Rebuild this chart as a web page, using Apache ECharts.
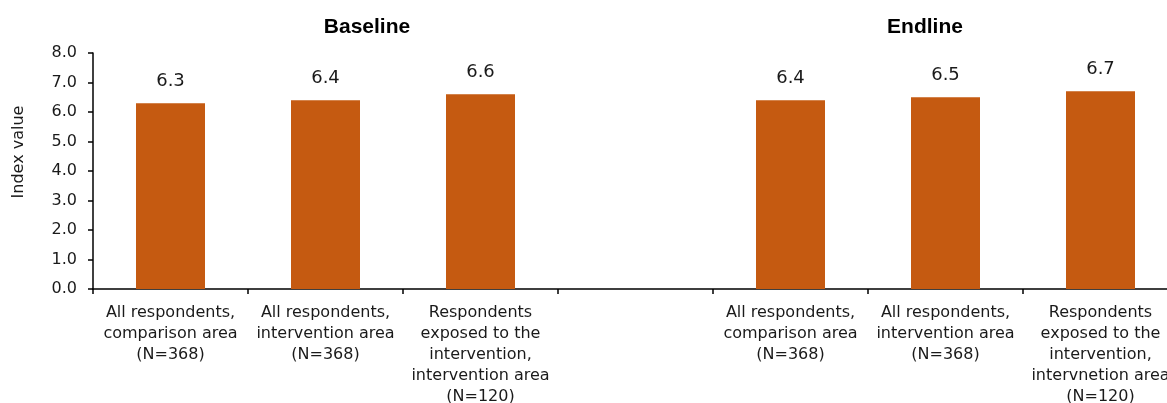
<!DOCTYPE html>
<html>
<head>
<meta charset="utf-8">
<script src="https://cdn.jsdelivr.net/npm/echarts@6/dist/echarts.min.js"></script>
<style>
  html, body { margin: 0; padding: 0; background: #fff; }
  #chart { width: 1167px; height: 403px; }
</style>
</head>
<body>
<div id="chart"></div>
<script>
// Group labels for the two survey rounds
const panelTitles = ['Baseline', 'Endline'];

// Categories: three baseline groups, an empty spacer, three endline groups
const categories = [
  'All respondents,\ncomparison area\n(N=368)',
  'All respondents,\nintervention area\n(N=368)',
  'Respondents\nexposed to the\nintervention,\nintervention area\n(N=120)',
  '',
  'All respondents,\ncomparison area\n(N=368)',
  'All respondents,\nintervention area\n(N=368)',
  'Respondents\nexposed to the\nintervention,\nintervnetion area\n(N=120)'
];

// Index values per group (spacer has no bar)
const indexValues = [6.3, 6.4, 6.6, null, 6.4, 6.5, 6.7];

// Y axis tick range
const yMin = 0;
const yMax = 8;
const yStep = 1;

const FONT = '"DejaVu Sans", Verdana, sans-serif';
const TITLE_FONT = '"Liberation Sans", Arial, sans-serif';
const TEXT = '#1a1a1a';

const chart = echarts.init(document.getElementById('chart'), null, { renderer: 'canvas' });

chart.setOption({
  animation: false,
  backgroundColor: '#ffffff',
  textStyle: { fontFamily: FONT },
  // plot area runs slightly past the right edge of the canvas
  grid: { left: 93, top: 53, width: 1085, height: 236, containLabel: false, outerBoundsMode: 'none' },
  graphic: [
    {
      type: 'text', x: 367, y: 27,
      style: { text: panelTitles[0], font: 'bold 21px ' + TITLE_FONT, fill: '#000', align: 'center', verticalAlign: 'middle' }
    },
    {
      type: 'text', x: 925, y: 27,
      style: { text: panelTitles[1], font: 'bold 21px ' + TITLE_FONT, fill: '#000', align: 'center', verticalAlign: 'middle' }
    },
    {
      type: 'text', x: 19, y: 152, rotation: Math.PI / 2,
      style: { text: 'Index value', font: '16px ' + FONT, fill: TEXT, align: 'center', verticalAlign: 'middle' }
    }
  ],
  xAxis: {
    type: 'category',
    data: categories,
    boundaryGap: true,
    axisLine: { show: true, lineStyle: { color: '#000', width: 1.5 } },
    axisTick: { show: true, interval: 0, length: 5, lineStyle: { color: '#000', width: 1.5 } },
    axisLabel: {
      interval: 0,
      margin: 13,
      fontSize: 16,
      lineHeight: 21,
      color: TEXT,
      fontFamily: FONT,
      align: 'center'
    }
  },
  yAxis: {
    type: 'value',
    min: yMin,
    max: yMax,
    interval: yStep,
    splitLine: { show: false },
    axisLine: { show: true, lineStyle: { color: '#000', width: 1.5 } },
    axisTick: { show: true, length: 5, lineStyle: { color: '#000', width: 1.5 } },
    axisLabel: {
      margin: 16,
      fontSize: 16,
      color: TEXT,
      fontFamily: FONT,
      formatter: v => v.toFixed(1)
    }
  },
  series: [{
    type: 'bar',
    data: indexValues,
    barWidth: 69,
    itemStyle: { color: '#C55A11' },
    label: {
      show: true,
      position: 'top',
      distance: 13,
      fontSize: 18,
      color: TEXT,
      fontFamily: FONT,
      formatter: p => (p.value == null ? '' : Number(p.value).toFixed(1))
    }
  }]
});
</script>
</body>
</html>
